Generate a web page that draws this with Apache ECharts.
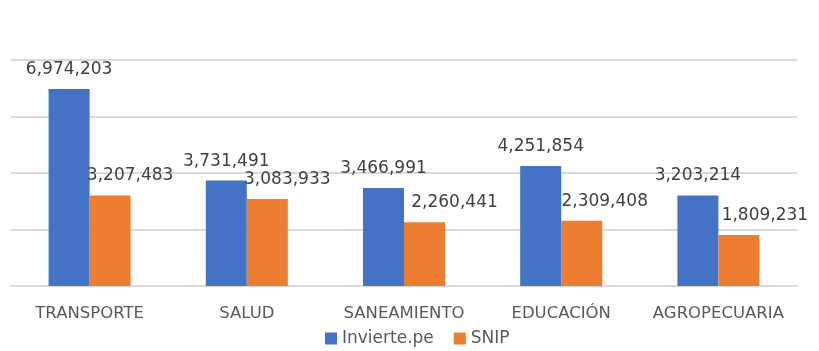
<!DOCTYPE html>
<html>
<head>
<meta charset="utf-8">
<script src="https://cdn.jsdelivr.net/npm/echarts@6/dist/echarts.min.js"></script>
<style>
html,body{margin:0;padding:0;background:#fff;}
#chart{width:819px;height:351px;}
</style>
</head>
<body>
<div id="chart"></div>
<script>
const categories = ['TRANSPORTE', 'SALUD', 'SANEAMIENTO', 'EDUCACIÓN', 'AGROPECUARIA'];
const seriesNames = ['Invierte.pe', 'SNIP'];
const inviertePe = [6974203, 3731491, 3466991, 4251854, 3203214];
const snip = [3207483, 3083933, 2260441, 2309408, 1809231];
// horizontal shift of the SNIP value labels as placed in the original
const snipLabelShift = [20, 20, 30, 23, 26];

const fmt = v => v.toLocaleString('en-US');
const FONT = 'DejaVu Sans';

const chart = echarts.init(document.getElementById('chart'), null, {renderer: 'canvas'});
chart.setOption({
  animation: false,
  backgroundColor: '#ffffff',
  textStyle: {fontFamily: FONT},
  grid: {left: 11, right: 22, top: 60, bottom: 65, containLabel: false},
  legend: {
    data: seriesNames,
    left: 320,
    top: 325,
    itemWidth: 12,
    itemHeight: 12,
    itemGap: 20,
    icon: 'rect',
    textStyle: {fontFamily: FONT, fontSize: 17, color: '#595959', padding: [0, 0, 0, 0]}
  },
  xAxis: {
    type: 'category',
    data: categories,
    axisLine: {show: true, lineStyle: {color: '#d9d9d9', width: 2}},
    axisTick: {show: false},
    axisLabel: {fontFamily: FONT, fontSize: 16.5, color: '#595959', margin: 19, interval: 0}
  },
  yAxis: {
    type: 'value',
    min: 0,
    max: 8000000,
    interval: 2000000,
    axisLabel: {show: false},
    axisLine: {show: false},
    axisTick: {show: false},
    splitLine: {lineStyle: {color: '#d9d9d9', width: 2}}
  },
  series: [
    {
      name: seriesNames[0],
      type: 'bar',
      data: inviertePe,
      barWidth: 41,
      barGap: '0%',
      itemStyle: {color: '#4472C4'},
      label: {
        show: true, position: 'top', distance: 11,
        fontFamily: FONT, fontSize: 17, color: '#404040',
        formatter: p => fmt(p.value)
      }
    },
    {
      name: seriesNames[1],
      type: 'bar',
      data: snip.map((v, i) => ({
        value: v,
        label: {offset: [snipLabelShift[i], 0]}
      })),
      barWidth: 41,
      barGap: '0%',
      itemStyle: {color: '#ED7D31'},
      label: {
        show: true, position: 'top', distance: 11,
        fontFamily: FONT, fontSize: 17, color: '#404040',
        formatter: p => fmt(p.value)
      }
    }
  ]
});
</script>
</body>
</html>
